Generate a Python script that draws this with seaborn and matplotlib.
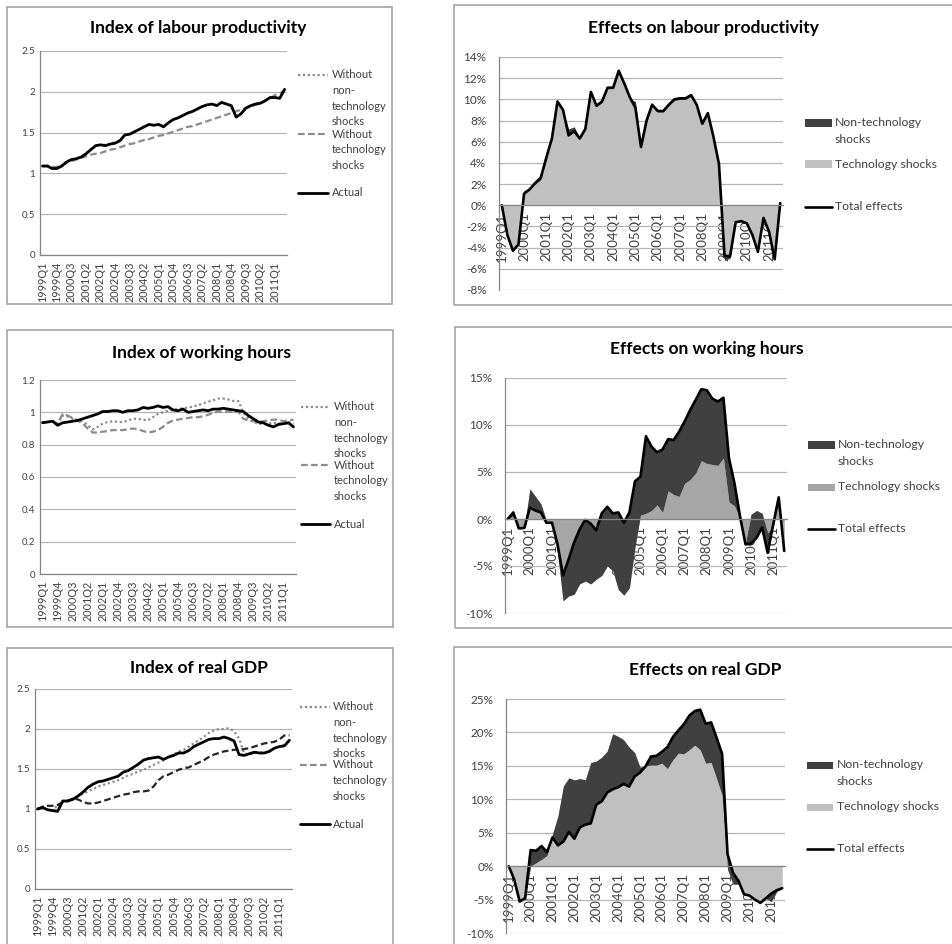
import numpy as np
import pandas as pd
import matplotlib
matplotlib.use('Agg')
from matplotlib import pyplot as plt
from matplotlib.lines import Line2D
from matplotlib.patches import Rectangle
import seaborn as sns

sns.set_style('white')
plt.rcParams['font.family'] = ['Lato', 'DejaVu Sans']

W, H = 953, 944

# quarters 1999Q1 .. 2011Q3
quarters = [f'{y}Q{q}' for y in range(1999, 2012) for q in range(1, 5)][:51]

# ---- index panels (left column) ----
lp_actual = [1.09, 1.09, 1.06, 1.06, 1.09, 1.14, 1.17, 1.18, 1.20, 1.24, 1.29, 1.34, 1.35, 1.34, 1.36,
             1.37, 1.40, 1.47, 1.48, 1.51, 1.54, 1.57, 1.60, 1.59, 1.60, 1.57, 1.62, 1.66, 1.68, 1.71,
             1.74, 1.76, 1.79, 1.82, 1.84, 1.85, 1.83, 1.87, 1.85, 1.83, 1.69, 1.73, 1.80, 1.83, 1.85,
             1.86, 1.89, 1.93, 1.93, 1.92, 2.03]
lp_no_nontech = [1.09, 1.10, 1.07, 1.06, 1.10, 1.14, 1.17, 1.18, 1.21, 1.25, 1.30, 1.34, 1.35, 1.35, 1.36,
                 1.38, 1.41, 1.47, 1.48, 1.51, 1.54, 1.58, 1.60, 1.59, 1.60, 1.58, 1.62, 1.66, 1.68, 1.71,
                 1.74, 1.76, 1.79, 1.82, 1.84, 1.85, 1.84, 1.87, 1.85, 1.83, 1.70, 1.73, 1.80, 1.83, 1.85,
                 1.86, 1.89, 1.92, 1.93, 1.92, 2.02]
lp_no_tech = [1.09, 1.09, 1.08, 1.08, 1.10, 1.13, 1.15, 1.17, 1.19, 1.21, 1.23, 1.24, 1.25, 1.27, 1.29,
              1.30, 1.32, 1.34, 1.36, 1.37, 1.39, 1.41, 1.42, 1.44, 1.46, 1.47, 1.49, 1.51, 1.53, 1.55,
              1.57, 1.58, 1.60, 1.62, 1.64, 1.66, 1.68, 1.70, 1.72, 1.74, 1.76, 1.78, 1.80, 1.82, 1.84,
              1.86, 1.89, 1.92, 1.96, 1.98, 2.02]

hours_actual = [0.936, 0.94, 0.945, 0.92, 0.935, 0.94, 0.945, 0.95, 0.96, 0.97, 0.98, 0.99, 1.005, 1.005, 1.01,
                1.01, 1.0, 1.01, 1.01, 1.015, 1.03, 1.025, 1.03, 1.04, 1.03, 1.035, 1.015, 1.01, 1.02, 1.0,
                1.005, 1.01, 1.015, 1.01, 1.02, 1.02, 1.025, 1.02, 1.015, 1.01, 1.005, 0.98, 0.96, 0.94, 0.935,
                0.92, 0.91, 0.925, 0.93, 0.935, 0.91]
hours_no_nontech = [0.936, 0.94, 0.945, 0.93, 0.98, 0.975, 0.96, 0.95, 0.945, 0.92, 0.895, 0.91, 0.93, 0.94, 0.945,
                    0.94, 0.94, 0.95, 0.96, 0.96, 0.955, 0.95, 0.97, 0.99, 1.0, 1.01, 1.015, 1.02, 1.025, 1.03,
                    1.035, 1.045, 1.055, 1.065, 1.075, 1.085, 1.085, 1.08, 1.07, 1.07, 1.0, 0.96, 0.94, 0.93, 0.925,
                    0.93, 0.935, 0.93, 0.935, 0.94, 0.93]
hours_no_tech = [0.936, 0.94, 0.945, 0.93, 0.99, 0.98, 0.965, 0.95, 0.93, 0.90, 0.875, 0.875, 0.88, 0.885, 0.89,
                 0.89, 0.89, 0.895, 0.90, 0.895, 0.885, 0.875, 0.88, 0.89, 0.91, 0.935, 0.95, 0.955, 0.96, 0.965,
                 0.97, 0.97, 0.975, 0.985, 0.995, 1.005, 1.005, 1.005, 1.0, 1.005, 0.96, 0.95, 0.945, 0.94, 0.945,
                 0.95, 0.955, 0.955, 0.945, 0.95, 0.955]

gdp_actual = [1.00, 1.02, 0.99, 0.98, 0.97, 1.10, 1.10, 1.12, 1.16, 1.21, 1.27, 1.31, 1.34, 1.35, 1.37,
              1.39, 1.41, 1.46, 1.48, 1.52, 1.56, 1.61, 1.63, 1.64, 1.65, 1.62, 1.65, 1.67, 1.70, 1.70,
              1.73, 1.78, 1.81, 1.84, 1.87, 1.88, 1.88, 1.90, 1.88, 1.85, 1.68, 1.67, 1.69, 1.71, 1.70,
              1.70, 1.72, 1.76, 1.78, 1.79, 1.86]
gdp_no_nontech = [1.00, 1.02, 0.99, 0.98, 1.05, 1.09, 1.11, 1.13, 1.16, 1.19, 1.22, 1.25, 1.28, 1.30, 1.32,
                  1.34, 1.36, 1.39, 1.42, 1.44, 1.47, 1.49, 1.52, 1.55, 1.58, 1.61, 1.65, 1.68, 1.72, 1.74,
                  1.78, 1.82, 1.86, 1.90, 1.95, 1.98, 2.00, 2.00, 2.01, 1.97, 1.88, 1.70, 1.68, 1.70, 1.71,
                  1.70, 1.72, 1.76, 1.78, 1.80, 1.86]
gdp_no_tech = [1.00, 1.03, 1.04, 1.04, 1.05, 1.08, 1.10, 1.13, 1.12, 1.09, 1.07, 1.07, 1.08, 1.10, 1.12,
               1.14, 1.16, 1.18, 1.19, 1.21, 1.22, 1.22, 1.23, 1.28, 1.36, 1.41, 1.43, 1.46, 1.49, 1.51,
               1.52, 1.55, 1.58, 1.61, 1.65, 1.68, 1.70, 1.72, 1.73, 1.74, 1.74, 1.75, 1.76, 1.78, 1.80,
               1.82, 1.83, 1.84, 1.87, 1.92, 1.92]

# ---- effects panels (right column), in % ----
lp_total = [0.0, -2.8, -4.3, -3.7, 1.1, 1.5, 2.1, 2.6, 4.5, 6.3, 9.8, 9.0, 6.6, 7.0, 6.3,
            7.2, 10.7, 9.4, 9.8, 11.1, 11.1, 12.7, 11.5, 10.2, 9.2, 5.5, 8.0, 9.5, 8.9, 8.9,
            9.5, 10.0, 10.1, 10.1, 10.4, 9.5, 7.7, 8.7, 6.5, 3.9, -4.8, -4.8, -1.6, -1.5, -1.7,
            -2.8, -4.4, -1.2, -2.5, -5.1, 0.2]
lp_tech = [0.0, -2.6, -4.2, -3.6, 1.4, 1.6, 2.0, 2.4, 4.4, 6.2, 9.6, 8.8, 7.2, 7.4, 6.4,
           7.1, 10.5, 9.3, 9.7, 11.0, 11.0, 12.5, 11.3, 10.0, 9.8, 5.4, 7.8, 9.4, 8.8, 8.8,
           9.4, 9.9, 10.0, 10.0, 10.3, 9.4, 7.6, 8.6, 6.4, 3.8, -5.2, -5.0, -1.5, -1.4, -1.6,
           -2.7, -4.3, -1.1, -2.4, -5.0, 0.1]

hours_total = [0.0, 0.7, -1.0, -0.95, 1.2, 0.9, 0.7, -0.4, -0.4, -2.7, -6.0, -4.3, -2.5, -1.1, -0.1,
               -0.5, -1.2, 0.6, 1.3, 0.6, 0.7, -0.4, 0.7, 4.0, 4.5, 8.8, 7.7, 7.1, 7.4, 8.5,
               8.4, 9.3, 10.4, 11.6, 12.7, 13.8, 13.7, 12.8, 12.5, 12.9, 6.5, 3.8, 0.3, -2.7, -2.6,
               -2.0, -0.9, -3.6, -0.6, 2.3, -3.4]
hours_tech = [0.0, 0.3, -0.8, -0.9, 3.2, 2.4, 1.6, -0.2, -0.5, -3.5, -8.7, -8.2, -8.0, -6.9, -6.6,
              -6.9, -6.4, -6.0, -5.0, -5.5, -7.5, -8.1, -7.3, -3.0, 0.4, 0.6, 0.9, 1.5, 0.7, 3.0,
              2.6, 2.4, 3.8, 4.2, 4.9, 6.2, 5.9, 5.8, 5.7, 6.5, 1.8, 1.4, 0.0, -2.6, 0.5,
              0.9, 0.6, -1.5, -0.8, 2.0, -3.0]

gdp_total = [0.0, -2.0, -5.3, -4.8, 2.4, 2.3, 3.0, 2.1, 4.3, 3.1, 3.7, 5.1, 4.1, 5.8, 6.2,
             6.4, 9.2, 9.7, 11.0, 11.5, 11.8, 12.3, 11.9, 13.4, 14.0, 14.9, 16.4, 16.5, 17.1, 17.8,
             19.3, 20.3, 21.2, 22.5, 23.2, 23.4, 21.3, 21.5, 19.2, 16.8, 1.8, -1.0, -2.2, -4.2, -4.4,
             -5.0, -5.5, -4.8, -4.1, -3.6, -3.3]
gdp_tech = [0.0, -1.9, -5.2, -4.8, 0.0, 0.5, 1.0, 1.6, 4.8, 7.5, 12.0, 13.2, 12.9, 13.1, 12.9,
            15.5, 15.7, 16.3, 17.2, 19.8, 19.4, 18.9, 17.8, 17.0, 14.8, 15.0, 15.1, 15.1, 15.4, 14.6,
            15.9, 16.9, 16.8, 17.4, 18.1, 17.4, 15.4, 15.5, 13.1, 10.6, -0.5, -2.7, -2.7, -4.2, -4.4,
            -5.0, -5.5, -4.8, -5.3, -3.8, -3.3]

DARK = '#404040'
GRID = '#b4b4b4'
AXC = '#868686'
TXT = '#404040'

fig = plt.figure(figsize=(W / 100, H / 100), dpi=100)
fig.patch.set_facecolor('white')


def px_axes(x0, y0, x1, y1):
    return fig.add_axes([x0 / W, 1 - y1 / H, (x1 - x0) / W, (y1 - y0) / H])


def px_box(x0, y0, x1, y1):
    fig.add_artist(Rectangle((x0 / W, 1 - y1 / H), (x1 - x0) / W, (y1 - y0) / H,
                             transform=fig.transFigure, fill=False, ec='#a6a6a6', lw=1.2))


def px_text(x, y, s, **kw):
    fig.text(x / W, 1 - y / H, s, **kw)


def px_line(x0, x1, y, **kw):
    fig.add_artist(Line2D([x0 / W, x1 / W], [1 - y / H] * 2, transform=fig.transFigure, **kw))


def px_swatch(x0, x1, y, color, h=7):
    fig.add_artist(Rectangle((x0 / W, 1 - (y + h / 2) / H), (x1 - x0) / W, h / H,
                             transform=fig.transFigure, color=color, lw=0))


def style_axes(ax, ylim, yticks, ylabels, step, xfs, yfs, ypad, zero_axis):
    n = len(quarters)
    # spine position first: moving the spine resets tick settings
    if zero_axis:
        ax.spines['bottom'].set_position(('data', 0))
        ax.spines['bottom'].set_zorder(3)
    ax.set_xlim(-0.5, n - 0.5)
    ax.set_ylim(*ylim)
    ax.set_yticks(yticks)
    ax.set_yticklabels(ylabels, fontsize=yfs, color=TXT)
    ax.set_xticks(range(0, n, step))
    ax.set_xticklabels(quarters[::step], rotation=90, fontsize=xfs, color=TXT)
    ax.set_xticks(np.arange(-0.5, n), minor=True)
    ax.tick_params(axis='x', which='major', length=0, pad=5)
    ax.tick_params(axis='x', which='minor', length=3, color=AXC, width=0.8, direction='out')
    ax.tick_params(axis='y', length=0, pad=ypad)
    ax.grid(axis='y', color=GRID, lw=0.9)
    ax.set_axisbelow(True)
    for s in ['top', 'right']:
        ax.spines[s].set_visible(False)
    for s in ['left', 'bottom']:
        ax.spines[s].set_color(AXC)
        ax.spines[s].set_linewidth(0.9)
    ax.set_xlabel('')
    ax.set_ylabel('')
    ax.set_facecolor('none')


x = np.arange(len(quarters))

# ---------- left column ----------
left_panels = [
    ((40, 51, 287, 255), (0, 2.5), [0, 0.5, 1, 1.5, 2, 2.5], ['0', '0.5', '1', '1.5', '2', '2.5'],
     lp_no_nontech, lp_no_tech, lp_actual, '#8c8c8c'),
    ((40, 380, 296, 574), (0, 1.2), [0, 0.2, 0.4, 0.6, 0.8, 1.0, 1.2], ['0', '0.2', '0.4', '0.6', '0.8', '1', '1.2'],
     hours_no_nontech, hours_no_tech, hours_actual, '#8c8c8c'),
    ((35, 689, 292, 889), (0, 2.5), [0, 0.5, 1, 1.5, 2, 2.5], ['0', '0.5', '1', '1.5', '2', '2.5'],
     gdp_no_nontech, gdp_no_tech, gdp_actual, '#262626'),
]
for box, ylim, yt, yl, s_dot, s_dash, s_act, dash_col in left_panels:
    ax = px_axes(*box)
    sns.lineplot(x=x, y=s_dot, ax=ax, color='#8c8c8c', lw=1.6, linestyle=(0, (1, 1.2)))
    sns.lineplot(x=x, y=s_dash, ax=ax, color=dash_col, lw=1.6, linestyle=(0, (3, 1.5)))
    sns.lineplot(x=x, y=s_act, ax=ax, color='black', lw=2.0)
    style_axes(ax, ylim, yt, yl, 3, 7.8, 7, 3.5, False)

# ---------- right column ----------
right_panels = [
    ((499, 57, 783, 290), (-8, 14), list(range(-8, 15, 2)), lp_tech, lp_total, '#c0c0c0'),
    ((505, 378, 787, 613), (-10, 15), list(range(-10, 16, 5)), hours_tech, hours_total, '#a6a6a6'),
    ((506, 699, 785, 933), (-10, 25), list(range(-10, 26, 5)), gdp_tech, gdp_total, '#c0c0c0'),
]
for box, ylim, yt, tech, total, light in right_panels:
    ax = px_axes(*box)
    ax.fill_between(x, 0, tech, color=light, lw=0, zorder=1)
    ax.fill_between(x, tech, total, color=DARK, lw=0, zorder=1.5)
    sns.lineplot(x=x, y=total, ax=ax, color='black', lw=1.9, zorder=2)
    style_axes(ax, ylim, yt, [f'{v}%' for v in yt], 4, 9.5, 8.5, 9, True)

# ---------- chart frames & titles ----------
for b in [(7, 7, 392, 304), (454, 5, 960, 305), (7, 330, 393, 627),
          (455, 327, 960, 628), (7, 648, 393, 950), (454, 647, 960, 950)]:
    px_box(*b)

titles = [(198, 28, 'Index of labour productivity'), (703, 28, 'Effects on labour productivity'),
          (202, 353, 'Index of working hours'), (707, 349, 'Effects on working hours'),
          (199, 668, 'Index of real GDP'), (705, 670, 'Effects on real GDP')]
for tx, ty, s in titles:
    px_text(tx, ty, s, ha='center', va='center', fontsize=12.5, fontweight='bold', color='black')

# ---------- legends, left column ----------
left_leg = [
    (298, 328, 332, [75, 134, 193]),
    (301, 330, 334, [407, 465, 524]),
    (300, 330, 333, [707, 765, 824]),
]
leg_labels = [['Without', 'non-', 'technology', 'shocks'], ['Without', 'technology', 'shocks'], ['Actual']]
for sx0, sx1, tx, ys in left_leg:
    px_line(sx0, sx1, ys[0], color='#8c8c8c', lw=1.6, linestyle=(0, (1, 1.2)))
    px_line(sx0, sx1, ys[1], color='#8c8c8c', lw=1.6, linestyle=(0, (3, 1.5)))
    px_line(sx0, sx1, ys[2], color='black', lw=2.0)
    for y0, lab in zip(ys, leg_labels):
        for k, line in enumerate(lab):
            px_text(tx, y0 + k * 15.6, line, ha='left', va='center', fontsize=8, color=TXT)

# ---------- legends, right column ----------
right_leg = [
    (805, 832, 835, [123, 164, 207], '#c0c0c0'),
    (808, 835, 838, [445, 487, 529], '#a6a6a6'),
    (807, 833, 837, [765, 807, 849], '#c0c0c0'),
]
for sx0, sx1, tx, ys, light in right_leg:
    px_swatch(sx0, sx1, ys[0], DARK)
    px_swatch(sx0, sx1, ys[1], light)
    px_line(sx0, sx1, ys[2], color='black', lw=1.9)
    px_text(tx, ys[0], 'Non-technology', ha='left', va='center', fontsize=8.8, color=TXT)
    px_text(tx, ys[0] + 16.5, 'shocks', ha='left', va='center', fontsize=8.8, color=TXT)
    px_text(tx, ys[1], 'Technology shocks', ha='left', va='center', fontsize=8.8, color=TXT)
    px_text(tx, ys[2], 'Total effects', ha='left', va='center', fontsize=8.8, color=TXT)

fig.savefig('out.png', dpi=100, facecolor='white')
